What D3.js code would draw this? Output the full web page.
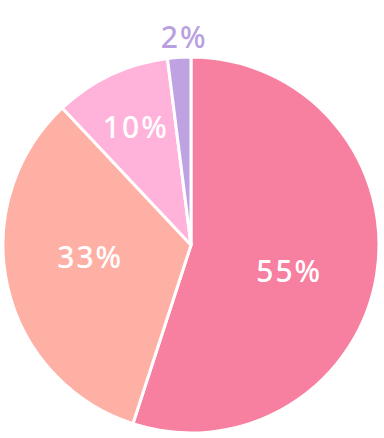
<!DOCTYPE html>
<html>
<head>
<meta charset="utf-8">
<script src="https://cdn.jsdelivr.net/npm/d3@7"></script>
<style>
  html, body { margin: 0; padding: 0; background: #fff; }
  svg { display: block; }
  .label { font-family: "Noto Sans", sans-serif; font-weight: 500; font-size: 30px; letter-spacing: 2px; }
</style>
</head>
<body>
<svg></svg>
<script>
const svgWidth = 384;
const svgHeight = 438;

// Data
const categories = ["A", "B", "C", "D"];
const values = [55, 33, 10, 2];
const labels = ["55%", "33%", "10%", "2%"];
const colors = ["#F77FA0", "#FFB0A5", "#FFB3DB", "#BFA2E2"];

const cx = 191, cy = 245, radius = 188;

const svg = d3.select("svg")
    .attr("width", svgWidth)
    .attr("height", svgHeight)
    .append("g")
    .attr("transform", `translate(${cx},${cy})`);

const pie = d3.pie().sort(null).value(d => d.value);
const arcs = pie(categories.map((c, i) => ({ name: c, value: values[i], label: labels[i], color: colors[i] })));

const arc = d3.arc().innerRadius(0).outerRadius(radius);

// Slices
svg.selectAll(".slice")
    .data(arcs)
    .enter()
    .append("path")
    .attr("class", "slice")
    .attr("d", arc)
    .attr("fill", d => d.data.color)
    .attr("stroke", "#fff")
    .attr("stroke-width", 3)
    .attr("stroke-linejoin", "round");

// label distance: small slices go outside
function labelRadius(d) {
    if (d.data.value < 5) return radius + 20;
    if (d.data.value < 15) return radius * 0.69;
    return radius * 0.54;
}

// big labels sit a little clockwise of the bisector
function labelAngle(d) {
    const mid = (d.startAngle + d.endAngle) / 2;
    if (d.data.value > 20) return mid + 0.1;
    if (d.data.value < 5) return mid + 0.03;
    return mid;
}

svg.selectAll(".label")
    .data(arcs)
    .enter()
    .append("text")
    .attr("class", "label")
    .attr("x", d => labelRadius(d) * Math.sin(labelAngle(d)))
    .attr("y", d => -labelRadius(d) * Math.cos(labelAngle(d)))
    .attr("text-anchor", "middle")
    .attr("dy", "0.36em")
    .attr("fill", d => d.data.value < 5 ? "#B9A0E0" : "#fff")
    .text(d => d.data.label);
</script>
</body>
</html>
